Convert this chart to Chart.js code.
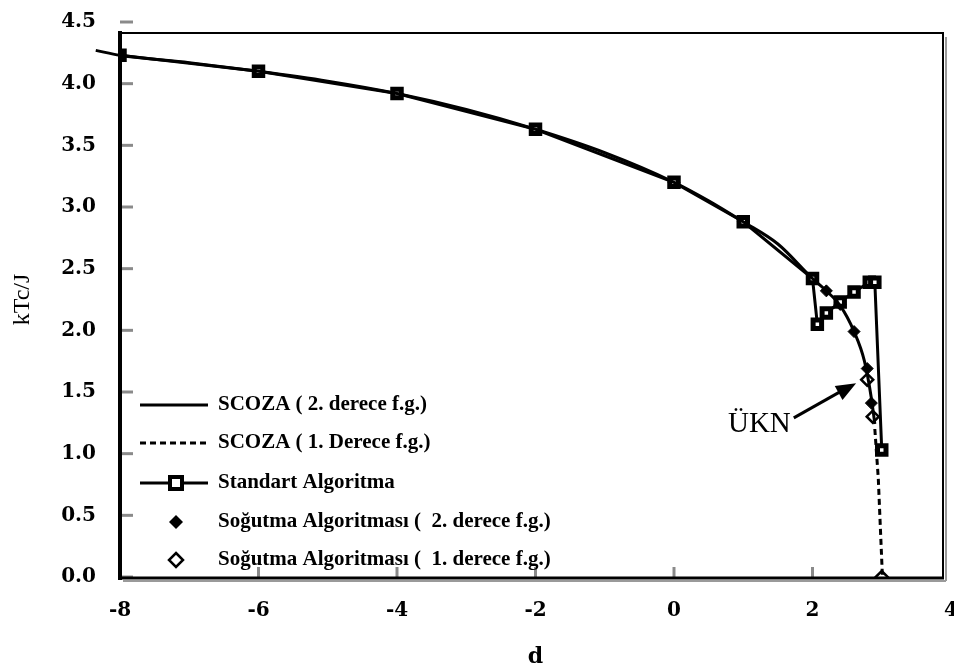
<html lang="tr">
<head>
  <meta charset="UTF-8">
  <title>kTc/J - d</title>
  <style>
    body { margin: 0; background: #fff; }
  </style>
</head>
<body>
  <canvas id="myChart" width="954" height="672"></canvas>
  <script src="https://cdn.jsdelivr.net/npm/chart.js@4.4.1/dist/chart.umd.min.js"></script>
  <script>
    // SCOZA, 2. derece f.g. (solid curve)
    const scoza2D = [-8.35, -8, -7, -6, -5, -4, -3, -2, -1, 0, 0.5, 1, 1.5, 2, 2.2, 2.4, 2.6, 2.75, 2.85, 2.9];
    const scoza2K = [4.27, 4.23, 4.17, 4.10, 4.02, 3.92, 3.79, 3.63, 3.44, 3.20, 3.05, 2.88, 2.70, 2.42, 2.32, 2.20, 1.99, 1.75, 1.45, 1.24];
    // SCOZA, 1. derece f.g. (dashed)
    const scoza1D = [2.9, 2.95, 2.98, 3.01];
    const scoza1K = [1.20, 0.80, 0.40, 0.0];
    // Standart Algoritma
    const stdD = [-8, -6, -4, -2, 0, 1, 2, 2.07, 2.2, 2.4, 2.6, 2.82, 2.9, 3.0];
    const stdK = [4.23, 4.10, 3.92, 3.63, 3.20, 2.88, 2.42, 2.05, 2.14, 2.23, 2.31, 2.39, 2.39, 1.03];
    // Sogutma Algoritmasi, 2. derece
    const cool2D = [-8, -6, -4, -2, 0, 1, 2, 2.2, 2.4, 2.6, 2.79, 2.85];
    const cool2K = [4.23, 4.10, 3.92, 3.63, 3.20, 2.88, 2.42, 2.32, 2.21, 1.99, 1.69, 1.41];
    // Sogutma Algoritmasi, 1. derece
    const cool1D = [2.79, 2.87, 3.0];
    const cool1K = [1.60, 1.30, 0.0];

    const xTicks = [-8, -6, -4, -2, 0, 2, 4];
    const yTicks = [0, 0.5, 1, 1.5, 2, 2.5, 3, 3.5, 4, 4.5];

    const pts = (xs, ys) => xs.map((x, i) => ({ x: x, y: ys[i] }));

    const legendLabels = [
      'SCOZA ( 2. derece f.g.)',
      'SCOZA ( 1. Derece f.g.)',
      'Standart Algoritma',
      'Soğutma Algoritması (  2. derece f.g.)',
      'Soğutma Algoritması (  1. derece f.g.)'
    ];

    const serif = "'Liberation Serif', 'Times New Roman', serif";
    const tickFont = "'DejaVu Serif', serif";

    // frame, thick axes and grey inner ticks
    const framePlugin = {
      id: 'frame',
      afterDatasetsDraw(chart) {
        const { ctx, chartArea: a, scales } = chart;
        const top = a.top + 11, right = a.right - 8;
        ctx.save();
        ctx.strokeStyle = '#000';
        ctx.lineWidth = 2;
        ctx.beginPath();
        ctx.moveTo(a.left, top); ctx.lineTo(right, top); ctx.lineTo(right, a.bottom);
        ctx.stroke();
        // grey ticks
        ctx.strokeStyle = '#8a8a8a';
        ctx.lineWidth = 3;
        yTicks.forEach(v => {
          const y = scales.y.getPixelForValue(v);
          ctx.beginPath(); ctx.moveTo(a.left, y); ctx.lineTo(a.left + 13, y); ctx.stroke();
        });
        xTicks.slice(1, -1).forEach(v => {
          const x = scales.x.getPixelForValue(v);
          ctx.beginPath(); ctx.moveTo(x, a.bottom); ctx.lineTo(x, a.bottom - 10); ctx.stroke();
        });
        // shadows
        ctx.strokeStyle = '#9a9a9a';
        ctx.lineWidth = 2;
        ctx.beginPath(); ctx.moveTo(a.left + 3, a.bottom + 4); ctx.lineTo(right + 3, a.bottom + 4); ctx.stroke();
        ctx.beginPath(); ctx.moveTo(right + 3, top + 4); ctx.lineTo(right + 3, a.bottom + 4); ctx.stroke();
        // thick axes
        ctx.strokeStyle = '#000';
        ctx.lineWidth = 4;
        ctx.beginPath(); ctx.moveTo(a.left, top - 2); ctx.lineTo(a.left, a.bottom + 3); ctx.stroke();
        ctx.lineWidth = 3;
        ctx.beginPath(); ctx.moveTo(a.left, a.bottom + 1); ctx.lineTo(right + 1, a.bottom + 1); ctx.stroke();
        ctx.restore();
      }
    };

    // ÜKN label with arrow
    const noteP = {
      id: 'note',
      afterDatasetsDraw(chart) {
        const { ctx, scales } = chart;
        const x0 = scales.x.getPixelForValue(1.73), y0 = scales.y.getPixelForValue(1.29);
        const x1 = scales.x.getPixelForValue(2.63), y1 = scales.y.getPixelForValue(1.57);
        ctx.save();
        ctx.strokeStyle = '#000';
        ctx.fillStyle = '#000';
        ctx.lineWidth = 3;
        ctx.beginPath(); ctx.moveTo(x0, y0); ctx.lineTo(x1 - 10, y1 + 5); ctx.stroke();
        const ang = Math.atan2(y1 - y0, x1 - x0);
        ctx.beginPath();
        ctx.moveTo(x1, y1);
        ctx.lineTo(x1 - 20 * Math.cos(ang) + 8 * Math.sin(ang), y1 - 20 * Math.sin(ang) - 8 * Math.cos(ang));
        ctx.lineTo(x1 - 20 * Math.cos(ang) - 8 * Math.sin(ang), y1 - 20 * Math.sin(ang) + 8 * Math.cos(ang));
        ctx.closePath();
        ctx.fill();
        ctx.font = '29px ' + serif;
        ctx.textAlign = 'right';
        ctx.textBaseline = 'middle';
        ctx.fillText('ÜKN', x0 - 3, y0 + 6);
        ctx.restore();
      }
    };

    // legend inside the plot, lower left
    const legendP = {
      id: 'innerLegend',
      afterDraw(chart) {
        const { ctx } = chart;
        const rows = [405, 443, 483, 522, 560];
        ctx.save();
        ctx.font = 'bold 21px ' + serif;
        ctx.textBaseline = 'middle';
        ctx.fillStyle = '#000';
        rows.forEach((y, i) => {
          ctx.strokeStyle = '#000';
          ctx.lineWidth = 3;
          if (i === 0 || i === 2) {
            ctx.setLineDash([]);
            ctx.beginPath(); ctx.moveTo(140, y); ctx.lineTo(208, y); ctx.stroke();
          }
          if (i === 1) {
            ctx.setLineDash([6, 4]);
            ctx.beginPath(); ctx.moveTo(140, y); ctx.lineTo(208, y); ctx.stroke();
            ctx.setLineDash([]);
          }
          if (i === 2) {
            ctx.fillStyle = '#fff';
            ctx.lineWidth = 4;
            ctx.fillRect(170, y - 6, 12, 12);
            ctx.strokeRect(170, y - 6, 12, 12);
            ctx.fillStyle = '#000';
          }
          if (i >= 3) {
            ctx.beginPath();
            ctx.moveTo(176, y - 7); ctx.lineTo(183, y); ctx.lineTo(176, y + 7); ctx.lineTo(169, y);
            ctx.closePath();
            if (i === 3) { ctx.fill(); } else {
              ctx.fillStyle = '#fff'; ctx.fill(); ctx.fillStyle = '#000';
              ctx.lineWidth = 2.5; ctx.stroke();
            }
          }
          ctx.fillText(legendLabels[i], 218, y);
        });
        ctx.restore();
      }
    };

    const ctx = document.getElementById('myChart');

    const myChart = new Chart(ctx, {
      type: 'scatter',
      data: {
        datasets: [
          {
            label: legendLabels[0],
            data: pts(scoza2D, scoza2K),
            showLine: true,
            borderColor: '#000',
            borderWidth: 3,
            pointRadius: 0,
            cubicInterpolationMode: 'monotone',
            clip: false
          },
          {
            label: legendLabels[1],
            data: pts(scoza1D, scoza1K),
            showLine: true,
            borderColor: '#000',
            borderWidth: 3,
            borderDash: [6, 4],
            pointRadius: 0
          },
          {
            label: legendLabels[2],
            data: pts(stdD, stdK),
            showLine: true,
            borderColor: '#000',
            borderWidth: 3,
            pointStyle: 'rect',
            pointRadius: 6,
            pointBorderWidth: 5,
            pointBackgroundColor: '#fff',
            pointBorderColor: '#000'
          },
          {
            label: legendLabels[3],
            data: pts(cool2D, cool2K),
            pointStyle: 'rectRot',
            pointRadius: 6,
            pointBackgroundColor: '#000',
            pointBorderColor: '#000'
          },
          {
            label: legendLabels[4],
            data: pts(cool1D, cool1K),
            pointStyle: 'rectRot',
            pointRadius: 6,
            pointBorderWidth: 2.5,
            pointBackgroundColor: '#fff',
            pointBorderColor: '#000'
          }
        ]
      },
      options: {
        responsive: false,
        animation: false,
        layout: { autoPadding: false, padding: { top: 22, right: 3, left: 0, bottom: 0 } },
        plugins: {
          legend: { display: false },
          tooltip: { enabled: false }
        },
        scales: {
          x: {
            type: 'linear',
            min: -8,
            max: 4,
            afterBuildTicks: s => { s.ticks = xTicks.map(v => ({ value: v })); },
            afterFit: s => { s.height = 95; s.paddingLeft = 0; s.paddingRight = 0; },
            grid: { display: false, drawTicks: false },
            border: { display: false },
            ticks: {
              color: '#000',
              padding: 22,
              font: { family: tickFont, size: 20, weight: 'bold' }
            },
            title: {
              display: true,
              text: 'd',
              color: '#000',
              padding: { top: 0, bottom: 2 },
              font: { family: tickFont, size: 22, weight: 'bold' }
            }
          },
          y: {
            min: 0,
            max: 4.5,
            afterBuildTicks: s => { s.ticks = yTicks.map(v => ({ value: v })); },
            afterFit: s => { s.width = 120; s.paddingTop = 0; s.paddingBottom = 0; },
            grid: { display: false, drawTicks: false },
            border: { display: false },
            ticks: {
              color: '#000',
              padding: 24,
              callback: v => v.toFixed(1),
              font: { family: tickFont, size: 20, weight: 'bold' }
            },
            title: {
              display: true,
              text: 'kTc/J',
              color: '#000',
              padding: { top: 8, bottom: 0 },
              font: { family: serif, size: 24 }
            }
          }
        }
      },
      plugins: [framePlugin, noteP, legendP]
    });
  </script>
</body>
</html>
